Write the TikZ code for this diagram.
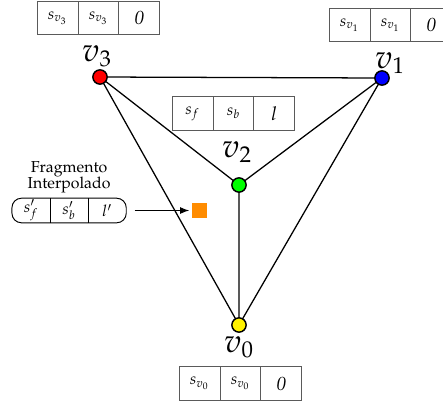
\documentclass[tikz,border=0pt]{standalone}
\usepackage[T1]{fontenc}
\usepackage{mathpazo}
\usepackage{amsmath}
\usepackage{tikz}
\usetikzlibrary{arrows.meta,positioning,fit}
\definecolor{naranja}{RGB}{255,140,0}
\definecolor{borde}{RGB}{90,90,90}

\tikzset{
  vertice/.style={circle,draw,line width=0.9pt,minimum size=9pt,inner sep=0pt},
  etiq/.style={inner sep=0pt,font=\huge},
  celda/.style={draw=borde,line width=0.6pt,minimum width=25.8pt,minimum height=21.2pt,inner sep=0pt,outer sep=0pt},
  celdaf/.style={minimum width=24pt,minimum height=15.5pt,inner sep=0pt,outer sep=0pt},
}

\begin{document}
\begin{tikzpicture}[>=Latex,x=0.63pt,y=-0.63pt]
\useasboundingbox (0,0) rectangle (443,402);
% aristas
\coordinate (c3) at (100,77);
\coordinate (c1) at (382,78);
\coordinate (c2) at (239,185);
\coordinate (c0) at (239,325);
\draw[line width=0.8pt] (c3) -- (c1) (c3) -- (c2) (c1) -- (c2) (c2) -- (c0) (c3) -- (c0) (c1) -- (c0);
% vertices
\node[vertice,fill=red] (v3) at (c3) {};
\node[vertice,fill=blue] (v1) at (c1) {};
\node[vertice,fill=green] (v2) at (c2) {};
\node[vertice,fill=yellow] (v0) at (c0) {};
\node[etiq] (l3) at (97,56) {$v_3$};
\node[etiq] (l1) at (390,63) {$v_1$};
\node[etiq] (l2) at (237,152) {$v_2$};
\node[etiq] (l0) at (239,347) {$v_0$};
% tablas
\node[celda] (t3a) at (57.5,18) {$s_{v_3}$};
\node[celda,right=0pt of t3a] (t3b) {$s_{v_3}$};
\node[celda,right=0pt of t3b] (t3c) {\large\textit{0}};
\node[celda] (t1a) at (349.5,25) {$s_{v_1}$};
\node[celda,right=0pt of t1a] (t1b) {$s_{v_1}$};
\node[celda,right=0pt of t1b] (t1c) {\large\textit{0}};
\node[celda] (t2a) at (192.5,113.5) {$s_f$};
\node[celda,right=0pt of t2a] (t2b) {$s_b$};
\node[celda,right=0pt of t2b] (t2c) {\large$l$};
\node[celda] (t0a) at (199.5,383.5) {$s_{v_0}$};
\node[celda,right=0pt of t0a] (t0b) {$s_{v_0}$};
\node[celda,right=0pt of t0b] (t0c) {\large\textit{0}};
% fragmento
\node[celdaf] (fa) at (31,210.5) {$s'_f$};
\node[celdaf,right=0pt of fa] (fb) {$s'_b$};
\node[celdaf,right=0pt of fb] (fc) {$l'$};
\node[draw,rounded corners=6pt,line width=0.6pt,inner sep=0pt,fit=(fa)(fc)] (caja) {};
\draw[line width=0.6pt] (fa.north east) -- (fa.south east) (fb.north east) -- (fb.south east);
\node[align=center,inner sep=0pt,above=3pt of caja] (txt) {Fragmento\\[-2pt]Interpolado};
\node[fill=naranja,minimum size=9.5pt,inner sep=0pt] (frag) at (199.5,210.5) {};
\draw[->,line width=0.6pt] ([xshift=5pt]caja.east) -- ([xshift=-1.5pt]frag.west);
\end{tikzpicture}
\end{document}
